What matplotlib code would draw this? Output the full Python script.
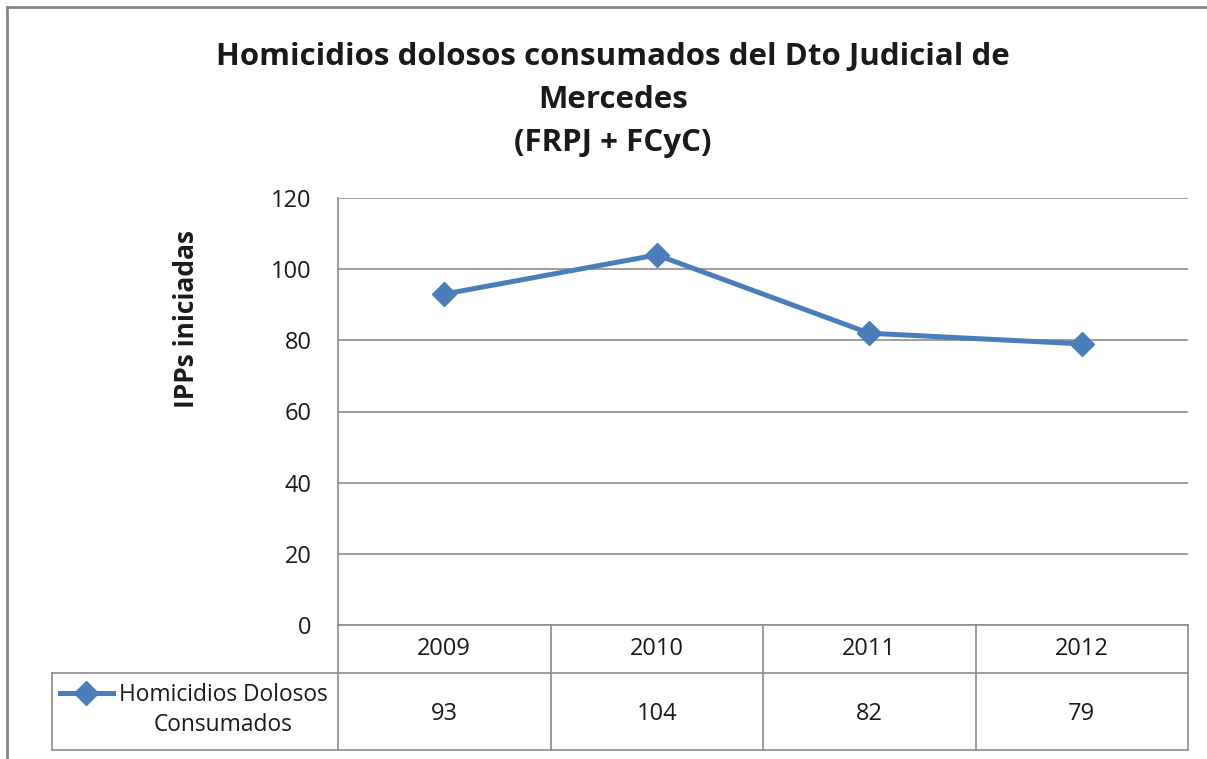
import matplotlib
matplotlib.use("Agg")
import matplotlib.pyplot as plt
from matplotlib.lines import Line2D
import matplotlib.transforms as mtransforms

years = ["2009", "2010", "2011", "2012"]
values = [93, 104, 82, 79]
series_name = "Homicidios Dolosos\nConsumados"
title = "Homicidios dolosos consumados del Dto Judicial de\nMercedes\n(FRPJ + FCyC)"
ylabel = "IPPs iniciadas"
yticks = [0, 20, 40, 60, 80, 100, 120]

plt.rcParams['font.family'] = ['Open Sans', 'DejaVu Sans']

W, H = 1207, 759
fig = plt.figure(figsize=(W / 100, H / 100), dpi=100)

# outer chart border
grey = "#868686"
fig.add_artist(Line2D([7 / W, 1.0], [1 - 7 / H, 1 - 7 / H], transform=fig.transFigure, color=grey, lw=2))
fig.add_artist(Line2D([7 / W, 7 / W], [0, 1 - 7 / H], transform=fig.transFigure, color=grey, lw=2))

left, right, top, bottom = 338, 1188, 198, 625
ax = fig.add_axes([left / W, 1 - bottom / H, (right - left) / W, (bottom - top) / H])

line_color = "#4A7EBB"
txt = "#1a1a1a"
fs = 17
x = list(range(len(years)))
ax.plot(x, values, color=line_color, lw=3.6, marker="D", markersize=12, zorder=3)

ax.set_xlim(-0.5, len(years) - 0.5)
ax.set_ylim(0, 120)
ax.set_yticks(yticks)
ax.set_yticklabels([str(v) for v in yticks], fontsize=fs, color=txt)
ax.tick_params(axis="y", length=0, pad=19)
ax.set_xticks([])
ax.grid(axis="y", color="#8c8c8c", lw=1.2)
ax.set_axisbelow(True)
for s in ["top", "right", "bottom"]:
    ax.spines[s].set_visible(False)
ax.spines["left"].set_color("#8c8c8c")
ax.spines["left"].set_linewidth(1.2)

fig.text(187 / W, 1 - 319 / H, ylabel, rotation=90, ha="center", va="center",
         fontsize=19, fontweight="bold", color=txt)

fig.text(613 / W, 1 - 100 / H, title, ha="center", va="center", fontsize=22.5,
         fontweight="bold", linespacing=1.56, color=txt)

# data table
trans = mtransforms.blended_transform_factory(ax.transData, ax.transAxes)
axh = bottom - top
y_hdr = -48 / axh
y_row = -125 / axh
tc = "#8c8c8c"
lw = 1.2
n = len(years)
for i in range(n + 1):
    xb = i - 0.5
    ax.add_line(Line2D([xb, xb], [0, y_row], transform=trans, color=tc, lw=lw, clip_on=False))
ax.add_line(Line2D([-0.5, n - 0.5], [0, 0], transform=trans, color=tc, lw=lw, clip_on=False))
x_lab = -0.5 - (left - 52) / (right - left) * n
ax.add_line(Line2D([x_lab, n - 0.5], [y_hdr, y_hdr], transform=trans, color=tc, lw=lw, clip_on=False))
ax.add_line(Line2D([x_lab, n - 0.5], [y_row, y_row], transform=trans, color=tc, lw=lw, clip_on=False))
ax.add_line(Line2D([x_lab, x_lab], [y_hdr, y_row], transform=trans, color=tc, lw=lw, clip_on=False))

for i, (yr, v) in enumerate(zip(years, values)):
    ax.text(i, -24 / axh, yr, transform=trans, ha="center", va="center", fontsize=fs, color=txt)
    ax.text(i, -89 / axh, str(v), transform=trans, ha="center", va="center", fontsize=fs, color=txt)

# legend key in table
px = (right - left) / n
kx0 = -0.5 - (left - 60) / px
kx1 = -0.5 - (left - 113) / px
ky = -68 / axh
ax.add_line(Line2D([kx0, kx1], [ky, ky], transform=trans, color=line_color, lw=3.6, clip_on=False))
ax.add_line(Line2D([(kx0 + kx1) / 2], [ky], transform=trans, color=line_color, marker="D",
                   markersize=12, lw=0, clip_on=False))
ax.text(-0.5 - (left - 223) / px, -85 / axh, series_name, transform=trans,
        ha="center", va="center", fontsize=16.4, color=txt, multialignment="center", linespacing=1.35)

fig.savefig("out.png", dpi=100)
